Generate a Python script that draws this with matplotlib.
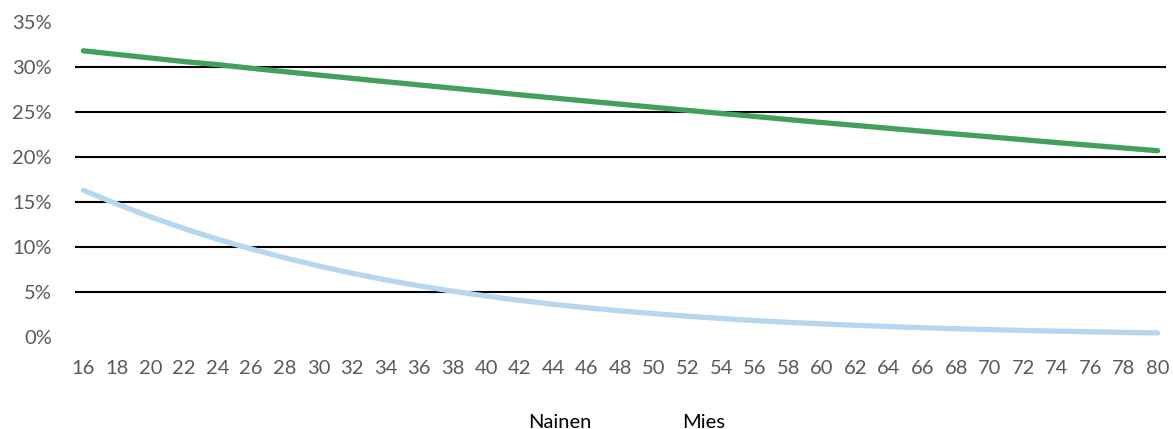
import matplotlib
matplotlib.use("Agg")
import matplotlib.pyplot as plt
from matplotlib.lines import Line2D

ages = list(range(16, 81, 2))
nainen = [31.8, 31.4, 31.0, 30.6, 30.26, 29.86, 29.48, 29.11, 28.74, 28.37, 28.01,
          27.65, 27.29, 26.91, 26.56, 26.21, 25.87, 25.52, 25.18, 24.84, 24.51,
          24.16, 23.83, 23.51, 23.19, 22.86, 22.55, 22.24, 21.92, 21.60, 21.30,
          21.00, 20.70]
mies = [16.3, 14.77, 13.35, 12.05, 10.86, 9.78, 8.80, 7.90, 7.08, 6.35, 5.69,
        5.09, 4.55, 4.07, 3.64, 3.25, 2.90, 2.59, 2.31, 2.06, 1.83, 1.63, 1.46,
        1.30, 1.16, 1.03, 0.92, 0.82, 0.73, 0.65, 0.58, 0.51, 0.46]
series_labels = ["Nainen", "Mies"]
yticks = [0, 5, 10, 15, 20, 25, 30, 35]
grid_levels = [5, 10, 15, 20, 25, 30]

plt.rcParams['font.family'] = ['Lato', 'DejaVu Sans']

W, H = 1173, 429
fig = plt.figure(figsize=(W / 100, H / 100), dpi=100)
ax = fig.add_axes([75 / W, 1 - 337 / H, (1166 - 75) / W, (337 - 22) / H])

for g in grid_levels:
    ax.axhline(g, color='black', lw=1.5, zorder=1)

ax.plot(ages, nainen, color='#41A05A', lw=3.8, solid_capstyle='round', zorder=3)
ax.plot(ages, mies, color='#B5D7EF', lw=3.8, solid_capstyle='round', zorder=3)

ax.set_xlim(15.5, 80.5)
ax.set_ylim(0, 35)
ax.set_xticks(ages)
ax.set_xticklabels([str(a) for a in ages])
ax.set_yticks(yticks)
ax.set_yticklabels([f"{v}%" for v in yticks])
ax.tick_params(axis='both', length=0, labelsize=14.5, colors='#595959')
ax.tick_params(axis='x', pad=16.5)
ax.tick_params(axis='y', pad=16.5)
for s in ax.spines.values():
    s.set_visible(False)

handles = [Line2D([], [], color='none'), Line2D([], [], color='none')]
fig.legend(handles, series_labels, ncol=2, frameon=False, fontsize=14.5,
           loc='center', bbox_to_anchor=(602 / W, 1 - 422 / H),
           handlelength=2.0, handletextpad=0.4, columnspacing=2.1,
           labelcolor='black', borderpad=0)

fig.savefig("out.png", dpi=100)
